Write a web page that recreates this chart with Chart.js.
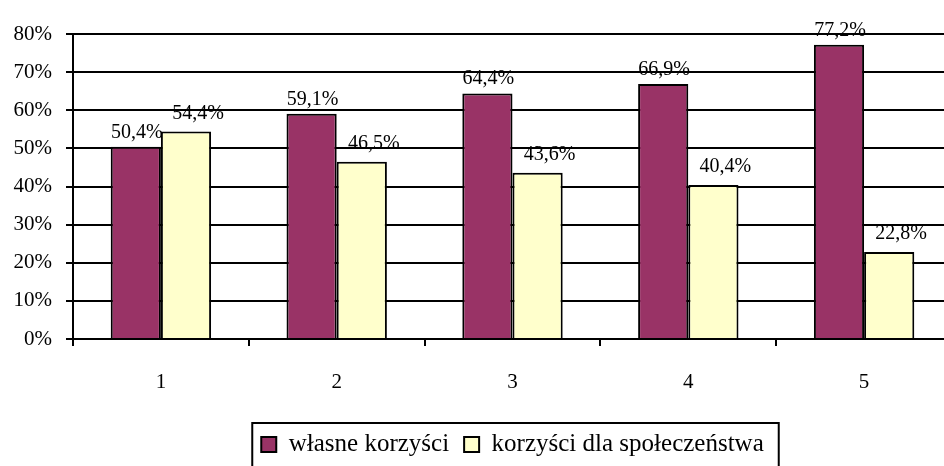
<!DOCTYPE html>
<html>
<head>
<meta charset="utf-8">
<script src="https://cdn.jsdelivr.net/npm/chart.js@4.4.0/dist/chart.umd.min.js"></script>
<style>
  html, body { margin: 0; padding: 0; overflow: hidden; background: #fff; }
  #wrap { position: absolute; left: 0; top: 0; width: 960px; height: 500px; }
</style>
</head>
<body>
<div id="wrap"><canvas id="chart" width="960" height="500"></canvas></div>
<script>
// Dane wykresu
const categories = ['1', '2', '3', '4', '5'];
const ownBenefits = [50.4, 59.1, 64.4, 66.9, 77.2];
const socialBenefits = [54.4, 46.5, 43.6, 40.4, 22.8];
const seriesNames = ['własne korzyści', 'korzyści dla społeczeństwa'];
const yMax = 80;
const yStep = 10;

const FONT_FAMILY = '"Liberation Serif", "Times New Roman", serif';
const TICK_SIZE = 21;
const LABEL_SIZE = 20;
const LEGEND_SIZE = 25;
Chart.defaults.font.family = FONT_FAMILY;
Chart.defaults.font.size = TICK_SIZE;
Chart.defaults.color = '#000';

// Etykiety wartości nad słupkami (format z przecinkiem)
const valueLabels = {
    id: 'valueLabels',
    afterDatasetsDraw(chart) {
        const ctx = chart.ctx;
        ctx.save();
        ctx.font = LABEL_SIZE + 'px ' + FONT_FAMILY;
        ctx.fillStyle = '#000';
        ctx.textAlign = 'center';
        ctx.textBaseline = 'alphabetic';
        chart.data.datasets.forEach((ds, i) => {
            const meta = chart.getDatasetMeta(i);
            meta.data.forEach((bar, j) => {
                const txt = ds.data[j].toFixed(1).replace('.', ',') + '%';
                ctx.fillText(txt, bar.x + ds.labelDx, bar.y - ds.labelGap);
            });
        });
        ctx.restore();
    }
};

// Ramka wokół legendy
const legendFrame = {
    id: 'legendFrame',
    afterDraw(chart) {
        const boxes = chart.legend.legendHitBoxes;
        if (!boxes || !boxes.length) return;
        const first = boxes[0];
        const last = boxes[boxes.length - 1];
        const ctx = chart.ctx;
        ctx.save();
        ctx.strokeStyle = '#000';
        ctx.lineWidth = 2;
        ctx.strokeRect(first.left - 9, first.top - 9,
            last.left + last.width + 15 - (first.left - 9), chart.height);
        ctx.restore();
    }
};

new Chart(document.getElementById('chart'), {
    type: 'bar',
    data: {
        labels: categories,
        datasets: [{
            label: seriesNames[0],
            data: ownBenefits,
            backgroundColor: '#993366',
            borderColor: '#000',
            borderWidth: 2,
            labelDx: 1,
            labelGap: 9
        }, {
            label: seriesNames[1],
            data: socialBenefits,
            backgroundColor: '#FFFFCC',
            borderColor: '#000',
            borderWidth: 2,
            labelDx: 12,
            labelGap: 13
        }]
    },
    options: {
        responsive: false,
        animation: false,
        devicePixelRatio: 1,
        layout: { padding: { top: 34, right: 8, left: 0, bottom: 33 } },
        datasets: { bar: { categoryPercentage: 0.571, barPercentage: 1 } },
        scales: {
            x: {
                grid: { offset: true, drawOnChartArea: false, drawTicks: true, tickLength: 7, color: '#000', lineWidth: 2 },
                border: { display: true, color: '#000', width: 2 },
                ticks: { padding: 24, font: { family: FONT_FAMILY, size: TICK_SIZE } },
                afterFit: s => { s.height = 78; }
            },
            y: {
                min: 0,
                max: yMax,
                ticks: { stepSize: yStep, padding: 14, font: { family: FONT_FAMILY, size: TICK_SIZE }, callback: v => v + '%' },
                grid: { color: '#000', lineWidth: 2, drawTicks: true, tickLength: 7 },
                border: { display: true, color: '#000', width: 2 },
                afterFit: s => { s.width = 73; }
            }
        },
        plugins: {
            legend: {
                position: 'bottom',
                fullSize: false,
                labels: {
                    boxWidth: 15,
                    boxHeight: 15,
                    padding: 15,
                    color: '#000',
                    font: { family: FONT_FAMILY, size: LEGEND_SIZE }
                }
            },
            tooltip: { enabled: false }
        }
    },
    plugins: [valueLabels, legendFrame]
});
</script>
</body>
</html>
